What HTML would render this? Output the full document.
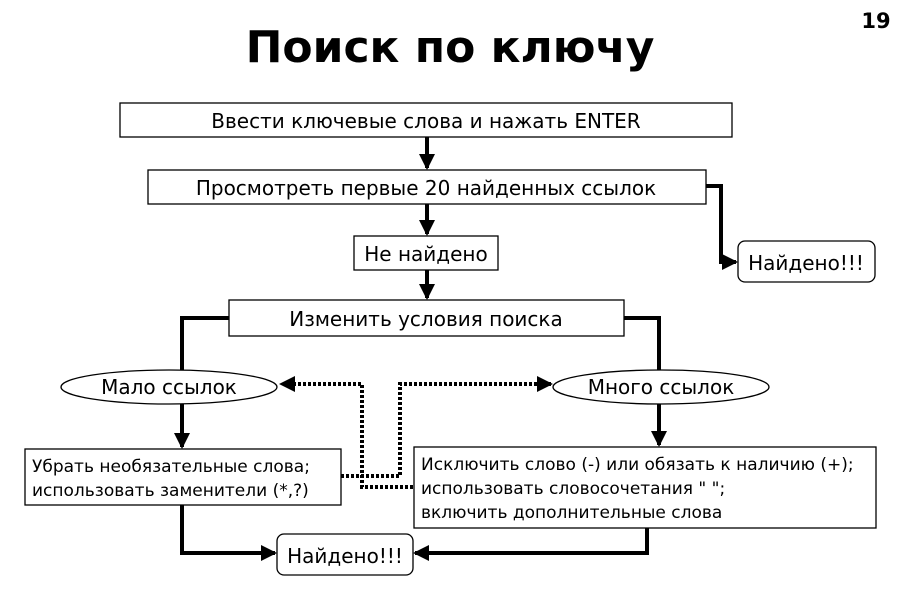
<!DOCTYPE html>
<html><head><meta charset="utf-8"><style>
body{margin:0;background:#fff}
svg text{font-family:"DejaVu Sans","Liberation Sans",sans-serif;fill:#000}
</style></head><body>
<svg width="900" height="600" viewBox="0 0 900 600" xmlns="http://www.w3.org/2000/svg">
<defs>
<marker id="a" markerWidth="4" markerHeight="4" refX="3.5" refY="2" orient="auto" markerUnits="strokeWidth"><path d="M0,0 L4,2 L0,4z" fill="#000"/></marker>
<marker id="b" markerWidth="5" markerHeight="5" refX="4.5" refY="2.5" orient="auto" markerUnits="strokeWidth"><path d="M0,0 L5,2.5 L0,5z" fill="#000"/></marker>
</defs>
<text x="450" y="62" text-anchor="middle" font-size="44" font-weight="bold">Поиск по ключу</text>
<text x="876" y="28" text-anchor="middle" font-size="21" font-weight="bold">19</text>

<g fill="#fff" stroke="#000" stroke-width="1.3">
<rect x="120" y="103" width="612" height="34"/>
<rect x="148" y="170" width="558" height="34"/>
<rect x="354" y="236" width="144" height="34"/>
<rect x="229" y="300" width="395" height="36"/>
<ellipse cx="169" cy="387" rx="108" ry="17"/>
<ellipse cx="661" cy="387" rx="108" ry="17"/>
<rect x="25" y="449" width="316" height="56"/>
<rect x="414" y="447" width="462" height="81"/>
<rect x="738" y="241" width="137" height="41" rx="7"/>
<rect x="277" y="534" width="136" height="41" rx="7"/>
</g>

<g stroke="#000" stroke-width="4" fill="none">
<path d="M427 137 V168" marker-end="url(#a)"/>
<path d="M427 204 V234" marker-end="url(#a)"/>
<path d="M427 270 V298" marker-end="url(#a)"/>
<path d="M706 186 H721 V262 H736" marker-end="url(#a)"/>
<path d="M229 318 H182 V370"/>
<path d="M624 318 H659 V370"/>
<path d="M182 404 V447" marker-end="url(#a)"/>
<path d="M659 404 V445" marker-end="url(#a)"/>
<path d="M182 505 V553 H275" marker-end="url(#a)"/>
<path d="M647 528 V553 H415" marker-end="url(#a)"/>
</g>
<g stroke="#000" stroke-width="4" stroke-dasharray="3,2" fill="none">
<path d="M413 487 H362 V384 H281" marker-end="url(#a)"/>
<path d="M341 476 H400 V384 H551" marker-end="url(#a)"/>
</g>

<g font-size="20">
<text x="426" y="128" text-anchor="middle">Ввести ключевые слова и нажать ENTER</text>
<text x="426" y="195" text-anchor="middle">Просмотреть первые 20 найденных ссылок</text>
<text x="426" y="261" text-anchor="middle">Не найдено</text>
<text x="426" y="326" text-anchor="middle">Изменить условия поиска</text>
<text x="169" y="394" text-anchor="middle">Мало ссылок</text>
<text x="661" y="394" text-anchor="middle">Много ссылок</text>
<text x="806" y="270" text-anchor="middle">Найдено!!!</text>
<text x="345" y="563" text-anchor="middle">Найдено!!!</text>
</g>
<g font-size="17">
<text x="32" y="472">Убрать необязательные слова;</text>
<text x="32" y="496">использовать заменители (*,?)</text>
<text x="421" y="470">Исключить слово (-) или обязать к наличию (+);</text>
<text x="421" y="494">использовать словосочетания " ";</text>
<text x="421" y="518">включить дополнительные слова</text>
</g>
</svg>
</body></html>
